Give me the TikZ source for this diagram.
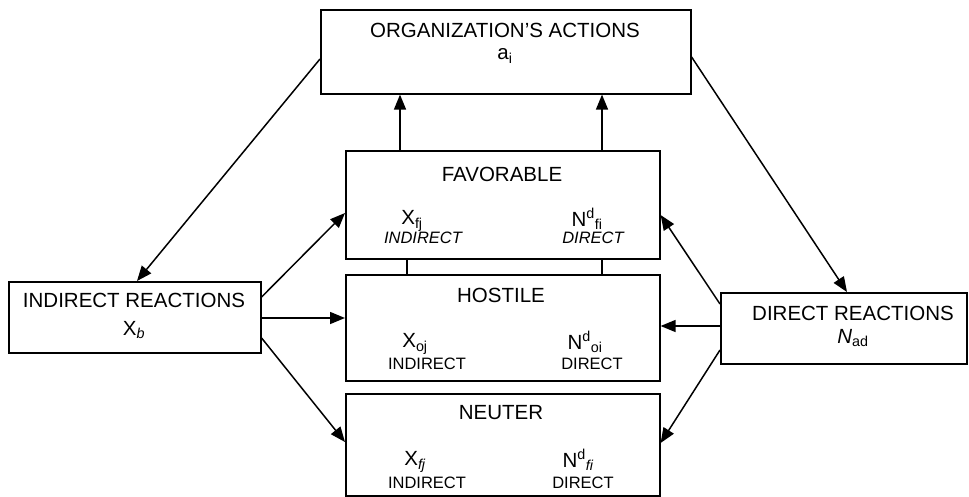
\documentclass[tikz,border=0pt]{standalone}
\usepackage{fontspec}
\setmainfont{Liberation Sans}
\usetikzlibrary{arrows.meta,calc}
\begin{document}
\begin{tikzpicture}[x=1pt,y=-1pt,
  box/.style={draw, line width=1.6pt, inner sep=0pt, anchor=north west},
  ttl/.style={inner sep=0pt, font=\fontsize{20.5}{22}\selectfont},
  sub/.style={inner sep=0pt, font=\fontsize{16.5}{18}\selectfont},
  arr/.style={-{Triangle[length=15pt,width=12pt]}, line width=1.5pt},
  ln/.style={line width=1.5pt}]
\useasboundingbox (0,0) rectangle (969,497);
% boxes
\node[box, minimum width=370pt, minimum height=84pt] (org) at (320,9) {};
\node[box, minimum width=314pt, minimum height=108pt] (fav) at (345,150) {};
\node[box, minimum width=314pt, minimum height=106pt] (hos) at (345,274) {};
\node[box, minimum width=314pt, minimum height=102pt] (neu) at (345,393) {};
\node[box, minimum width=252pt, minimum height=71pt] (ind) at (8,281) {};
\node[box, minimum width=246pt, minimum height=71pt] (dir) at (720,292) {};
% texts
\node[ttl, anchor=base] (t1) at (505,38) {ORGANIZATION'S ACTIONS};
\node[ttl, anchor=base] (t2) at (505,60) {a\textsubscript{i}};
\node[ttl] (t3) at (502,174) {FAVORABLE};
\node[ttl] (t4) at (412,221) {X\textsubscript{fj}};
\node[sub] (t5) at (423,238) {\itshape INDIRECT};
\node[ttl] (t6) at (587,219) {N\textsuperscript{d}\textsubscript{fi}};
\node[sub] (t7) at (593,238) {\itshape DIRECT};
\node[ttl] (t8) at (501,295) {HOSTILE};
\node[ttl] (t9) at (415,344) {X\textsubscript{oj}};
\node[sub] (t10) at (427,364) {INDIRECT};
\node[ttl] (t11) at (585,342) {N\textsuperscript{d}\textsubscript{oi}};
\node[sub] (t12) at (592,364) {DIRECT};
\node[ttl] (t13) at (501,413) {NEUTER};
\node[ttl] (t14) at (415,462) {X\textsubscript{\itshape fj}};
\node[sub] (t15) at (427,483) {INDIRECT};
\node[ttl] (t16) at (578,460) {N\textsuperscript{d}\textsubscript{\itshape fi}};
\node[sub] (t17) at (583,483) {DIRECT};
\node[ttl] (t18) at (134,300) {INDIRECT REACTIONS};
\node[ttl] (t19) at (134,330) {X\textsubscript{\itshape b}};
\node[ttl] (t20) at (853,313) {DIRECT REACTIONS};
\node[ttl] (t21) at (853,338) {\itshape N\textsubscript{\upshape ad}};
% connectors
\draw[arr] ($(fav.north west)+(55,0)$) -- ($(org.south west)+(80,0)$);
\draw[arr] ($(fav.north west)+(257,0)$) -- ($(org.south west)+(282,0)$);
\draw[ln] ($(fav.south west)+(62,0)$) -- ($(hos.north west)+(62,0)$);
\draw[ln] ($(fav.south west)+(257,0)$) -- ($(hos.north west)+(257,0)$);
\draw[arr] ($(org.north west)+(0,50)$) -- ($(ind.north west)+(129,0)$);
\draw[arr] ($(org.north east)+(0,48)$) -- ($(dir.north west)+(127,0)$);
\draw[arr] ($(ind.north east)+(0,16)$) -- ($(fav.north west)+(0,63)$);
\draw[arr] ($(ind.north east)+(0,37)$) -- ($(hos.north west)+(0,44)$);
\draw[arr] ($(ind.north east)+(0,57)$) -- ($(neu.north west)+(0,49)$);
\draw[arr] ($(dir.north west)+(0,12)$) -- ($(fav.north east)+(0,65)$);
\draw[arr] ($(dir.north west)+(0,34)$) -- ($(hos.north east)+(0,52)$);
\draw[arr] ($(dir.north west)+(0,58)$) -- ($(neu.north east)+(0,50)$);
\end{tikzpicture}
\end{document}
